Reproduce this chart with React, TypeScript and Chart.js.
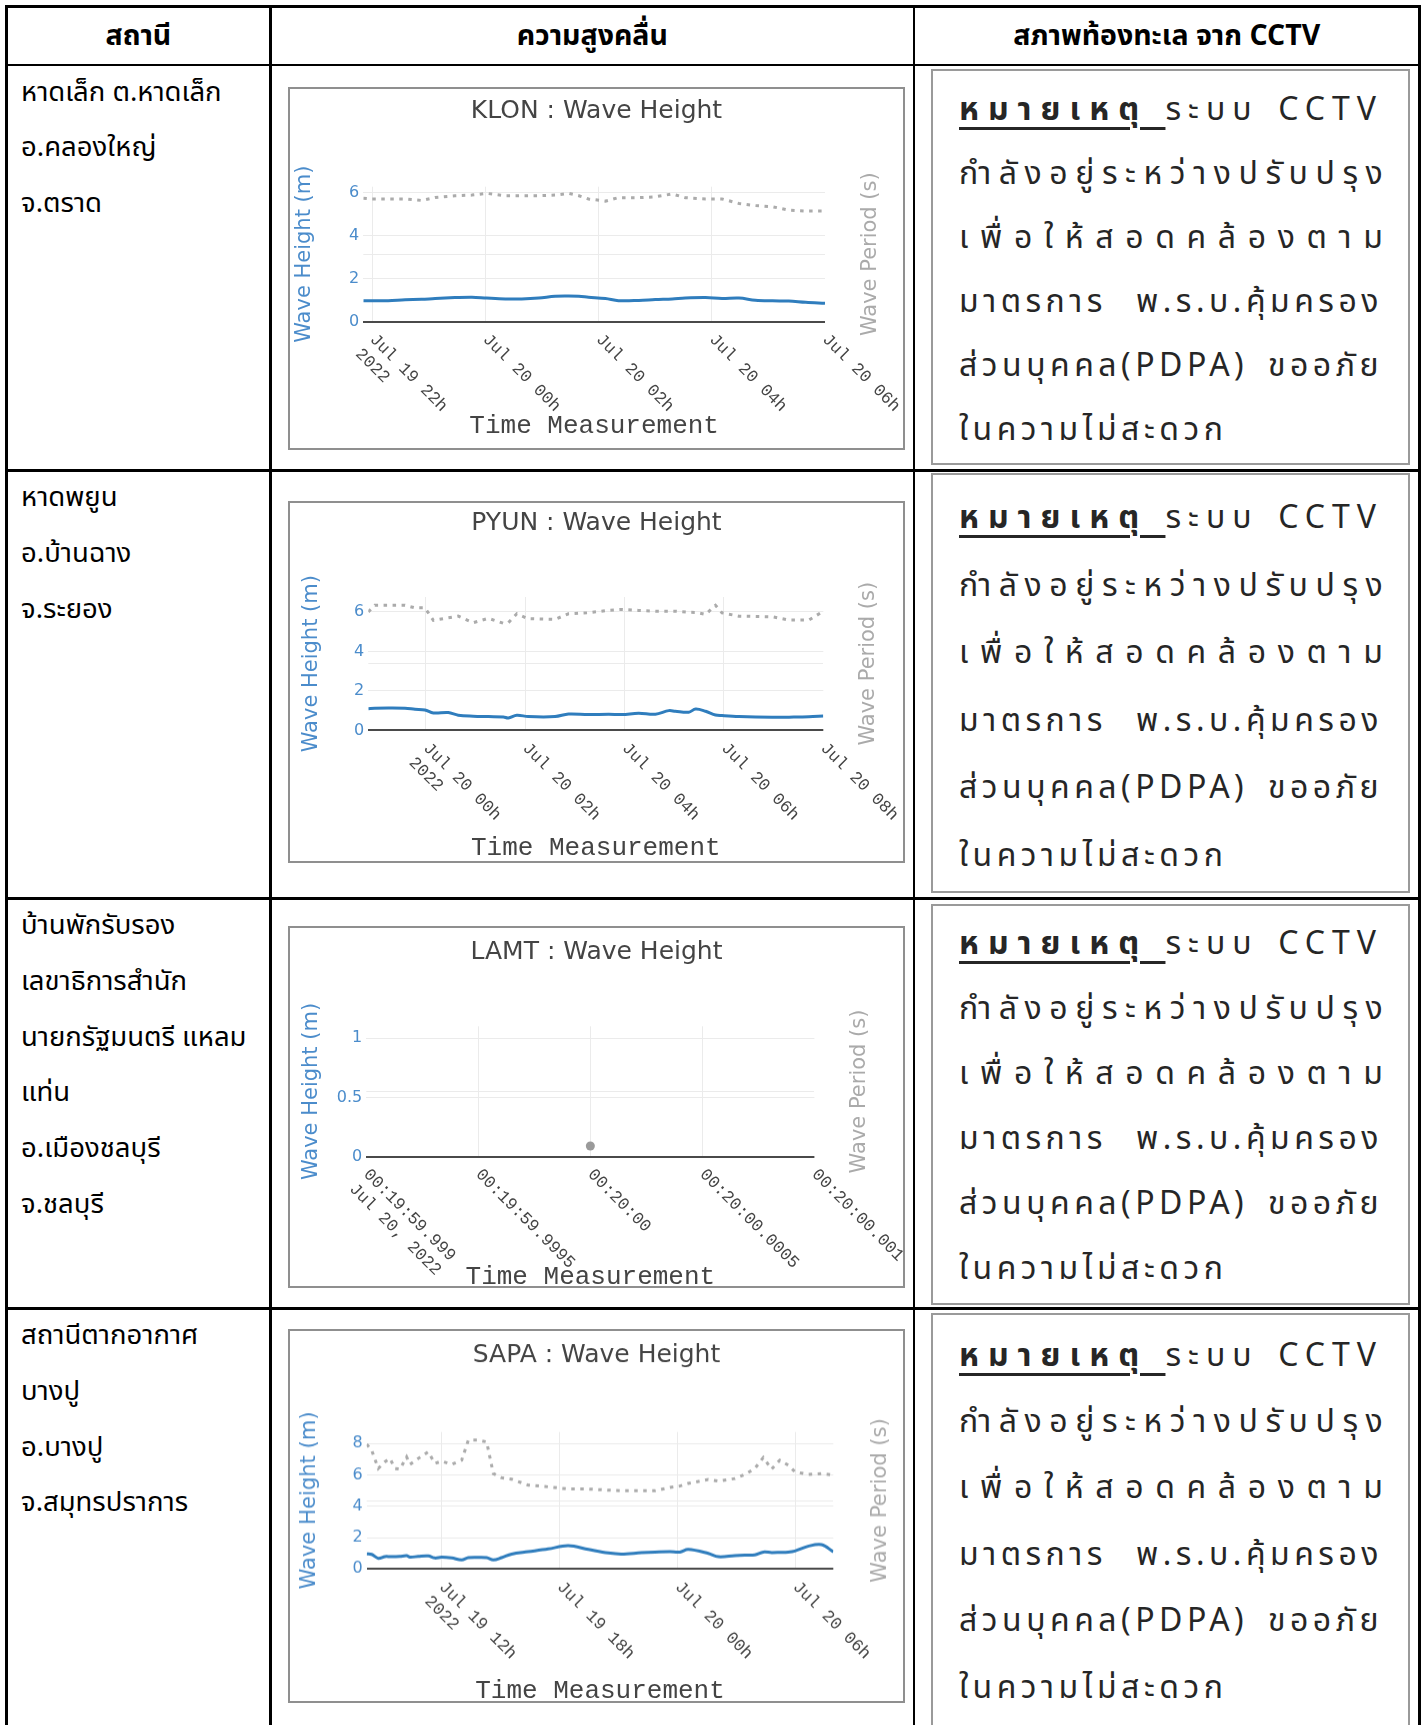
import React, { useEffect, useRef } from 'react';
import { Chart, registerables, LinearScale } from 'chart.js';

Chart.register(...registerables);

// x axis whose rotated tick labels start at the tick and run down-right (like the reference)
class SlantScale extends LinearScale {
  static id = 'slant';
  _getXAxisLabelAlignment() {
    return 'left';
  }
  _calculatePadding() {
    this.paddingLeft = 0;
    this.paddingRight = 0;
    this.paddingTop = 0;
    this.paddingBottom = 0;
  }
}
Chart.register(SlantScale);

// ---------------- DATA ----------------
const headers = ['สถานี', 'ความสูงคลื่น', 'สภาพท้องทะเล จาก CCTV'];

const stationLines = [
  ['หาดเล็ก ต.หาดเล็ก', 'อ.คลองใหญ่', 'จ.ตราด'],
  ['หาดพยูน', 'อ.บ้านฉาง', 'จ.ระยอง'],
  ['บ้านพักรับรอง', 'เลขาธิการสำนัก', 'นายกรัฐมนตรี แหลม', 'แท่น', 'อ.เมืองชลบุรี', 'จ.ชลบุรี'],
  ['สถานีตากอากาศ', 'บางปู', 'อ.บางปู', 'จ.สมุทรปราการ'],
];

const noteBold = 'หมายเหตุ';
const noteLines = [
  'ระบบ CCTV',
  'กำลังอยู่ระหว่างปรับปรุง',
  'เพื่อให้สอดคล้องตาม',
  'มาตรการ พ.ร.บ.คุ้มครอง',
  'ส่วนบุคคล(PDPA) ขออภัย',
  'ในความไม่สะดวก',
];

const stationCodes = ['KLON', 'PYUN', 'LAMT', 'SAPA'];

// hours counted from Jul 19 2022 00:00
const klonTime = [21.84, 21.99, 22.28, 22.58, 22.87, 23.11, 23.46, 23.76, 24.02, 24.35, 24.64, 24.94, 25.23, 25.47, 25.65, 25.82, 26.12, 26.35, 26.71, 27.0, 27.3, 27.53, 27.89, 28.18, 28.48, 28.77, 29.07, 29.36, 29.66, 30.0];
const klonHeight = [0.98, 0.97, 0.98, 1.02, 1.04, 1.08, 1.12, 1.14, 1.1, 1.06, 1.06, 1.1, 1.18, 1.19, 1.18, 1.14, 1.08, 0.98, 0.99, 1.03, 1.06, 1.1, 1.12, 1.08, 1.1, 1.0, 0.97, 0.96, 0.9, 0.86];
const klonPeriod = [5.74, 5.71, 5.71, 5.71, 5.64, 5.78, 5.86, 5.89, 5.97, 5.86, 5.86, 5.86, 5.89, 5.97, 5.86, 5.71, 5.61, 5.77, 5.77, 5.81, 5.94, 5.77, 5.71, 5.71, 5.5, 5.4, 5.35, 5.19, 5.15, 5.15];
const klonTicks = [22, 24, 26, 28, 30];
const klonTickLabels = [['Jul 19 22h', '2022'], 'Jul 20 00h', 'Jul 20 02h', 'Jul 20 04h', 'Jul 20 06h'];

const pyunTime = [22.84, 22.97, 23.24, 23.58, 23.78, 23.98, 24.15, 24.45, 24.65, 24.95, 25.26, 25.56, 25.66, 25.83, 26.06, 26.6, 26.87, 27.27, 27.68, 27.95, 28.28, 28.62, 28.89, 29.02, 29.29, 29.43, 29.63, 29.83, 29.96, 30.3, 30.97, 31.31, 31.71, 32.0];
const pyunHeight = [1.1, 1.12, 1.13, 1.12, 1.07, 1.03, 0.88, 0.9, 0.77, 0.72, 0.7, 0.68, 0.63, 0.77, 0.7, 0.7, 0.83, 0.8, 0.82, 0.8, 0.87, 0.82, 1.0, 0.97, 0.92, 1.08, 0.97, 0.78, 0.75, 0.7, 0.66, 0.67, 0.69, 0.73];
const pyunPeriod = [6.0, 6.33, 6.33, 6.33, 6.2, 6.2, 5.57, 5.7, 5.78, 5.45, 5.67, 5.42, 5.45, 5.9, 5.65, 5.62, 5.9, 5.95, 6.08, 6.12, 6.07, 6.03, 6.03, 6.03, 5.98, 5.97, 5.87, 6.33, 5.95, 5.78, 5.75, 5.58, 5.58, 6.03];
const pyunTicks = [24, 26, 28, 30, 32];
const pyunTickLabels = [['Jul 20 00h', '2022'], 'Jul 20 02h', 'Jul 20 04h', 'Jul 20 06h', 'Jul 20 08h'];

// milliseconds around Jul 20 2022 00:20:00
const lamtTime = [0];
const lamtHeight: number[] = [];
const lamtPeriod = [0.09];
const lamtTicks = [-1, -0.5, 0, 0.5, 1];
const lamtTickLabels = [['00:19:59.999', 'Jul 20, 2022'], '00:19:59.9995', '00:20:00', '00:20:00.0005', '00:20:00.001'];

const sapaTime = [8.19, 8.44, 8.78, 9.12, 9.37, 9.63, 9.88, 10.22, 10.39, 10.81, 11.32, 11.66, 12.0, 12.51, 13.02, 13.36, 13.86, 14.29, 14.63, 15.05, 15.56, 16.41, 17.42, 18.44, 19.46, 20.47, 21.15, 22.17, 22.85, 23.61, 24.12, 24.54, 25.56, 26.07, 26.92, 27.42, 27.93, 28.36, 28.78, 29.2, 29.63, 29.97, 30.64, 31.32, 31.92];
const sapaHeight = [0.96, 0.93, 0.68, 0.79, 0.79, 0.79, 0.8, 0.85, 0.76, 0.8, 0.83, 0.7, 0.75, 0.7, 0.58, 0.72, 0.74, 0.72, 0.58, 0.72, 0.95, 1.1, 1.28, 1.49, 1.25, 1.02, 0.95, 1.04, 1.08, 1.1, 1.08, 1.25, 1.0, 0.78, 0.85, 0.88, 0.9, 1.08, 1.05, 1.06, 1.08, 1.15, 1.45, 1.55, 1.1];
const sapaPeriod = [7.96, 7.58, 6.41, 6.84, 7.05, 6.41, 6.37, 7.15, 6.67, 7.05, 7.47, 6.73, 6.88, 6.67, 6.94, 8.22, 8.22, 8.11, 6.09, 5.82, 5.73, 5.35, 5.24, 5.1, 5.1, 5.03, 4.99, 4.99, 4.99, 5.2, 5.29, 5.46, 5.71, 5.61, 5.77, 6.03, 6.41, 7.11, 6.37, 6.94, 6.62, 6.2, 6.03, 6.09, 5.99];
const sapaTicks = [12, 18, 24, 30];
const sapaTickLabels = [['Jul 19 12h', '2022'], 'Jul 19 18h', 'Jul 20 00h', 'Jul 20 06h'];

const heightTicksA = [0, 2, 4, 6];
const heightTicksB = [0, 0.5, 1];
const heightTicksC = [0, 2, 4, 6, 8];

// ---------------- LAYOUT / STYLE ----------------
const TH_PLAIN = '"Noto Sans Thai", "Noto Sans Thai Looped", Tahoma, "DejaVu Sans", sans-serif';
const SANS = '"DejaVu Sans", Verdana, sans-serif';
const MONO = '"Liberation Mono", "Courier New", monospace';
const BLUE = '#2f7dbd';
const BLUE_TXT = '#4b8ccb';
const GRID = '#ebebeb';

const COL_X = [6.3, 270.5, 914, 1419.5];
const ROW_Y = [6.5, 65, 470.7, 898.5, 1308.5];
const LINE_W = 2.5;

const specs = [
  { code: stationCodes[0], time: klonTime, height: klonHeight, period: klonPeriod, xMin: 21.84, xMax: 30, xTicks: klonTicks, xLabels: klonTickLabels, yMax: 6.28, yTicks: heightTicksA,
    box: { top: 87, h: 363 }, plot: { left: 73.3, right: 535, top: 97.7, bottom: 232.7 }, titleY: 22.7, xTitleB: 22, yTitleX: 15, y2Dx: 45.5 },
  { code: stationCodes[1], time: pyunTime, height: pyunHeight, period: pyunPeriod, xMin: 22.84, xMax: 32, xTicks: pyunTicks, xLabels: pyunTickLabels, yMax: 6.75, yTicks: heightTicksA,
    box: { top: 500.7, h: 362.6 }, plot: { left: 78.3, right: 533.3, top: 94, bottom: 228 }, titleY: 20, xTitleB: 12.4, yTitleX: 21.5, y2Dx: 45 },
  { code: stationCodes[2], time: lamtTime, height: lamtHeight, period: lamtPeriod, xMin: -1, xMax: 1, xTicks: lamtTicks, xLabels: lamtTickLabels, yMax: 1.1, yTicks: heightTicksB,
    box: { top: 925.7, h: 362.3 }, plot: { left: 76.3, right: 524.4, top: 98.3, bottom: 229 }, titleY: 24.6, xTitleB: 9.3, yTitleX: 21.5, y2Dx: 45 },
  { code: stationCodes[3], time: sapaTime, height: sapaHeight, period: sapaPeriod, xMin: 8.19, xMax: 31.92, xTicks: sapaTicks, xLabels: sapaTickLabels, yMax: 8.74, yTicks: heightTicksC,
    box: { top: 1329, h: 373.7 }, plot: { left: 76.7, right: 543.3, top: 100.7, bottom: 238 }, titleY: 24, xTitleB: 10.3, yTitleX: 19.5, y2Dx: 47.7 },
];

const noteBoxes = [
  { top: 69, h: 396, first: 110, step: 64 },
  { top: 473, h: 420, first: 519, step: 67.5 },
  { top: 904, h: 401, first: 944.5, step: 65 },
  { top: 1313, h: 440, first: 1355.7, step: 66.4 },
];

const rightTitlePlugin = {
  id: 'rightTitle',
  afterDraw(chart: any, _args: any, opts: any) {
    const { ctx, chartArea } = chart;
    ctx.save();
    ctx.translate(chartArea.right + opts.dx, (chartArea.top + chartArea.bottom) / 2);
    ctx.rotate(-Math.PI / 2);
    ctx.font = opts.font;
    ctx.fillStyle = opts.color;
    ctx.textAlign = 'center';
    ctx.textBaseline = 'middle';
    ctx.fillText(opts.text, 0, 0);
    ctx.restore();
  },
};

function ChartPanel({ spec }: { spec: any }) {
  const ref = useRef<HTMLCanvasElement>(null);
  const W = 613;
  const H = spec.box.h - 4;
  useEffect(() => {
    const p = spec.plot;
    const single = spec.time.length === 1;
    const titleSize = 25;
    const titleLH = titleSize * 1.2;
    const yTitleSize = 21;
    const yTitleLH = yTitleSize * 1.2;
    const xTitleLH = 26;
    const chart = new Chart(ref.current as HTMLCanvasElement, {
      type: 'line',
      data: {
        datasets: [
          {
            label: 'Wave Height',
            data: spec.height.map((v: number, i: number) => ({ x: spec.time[i], y: v })),
            borderColor: BLUE,
            borderWidth: 3,
            pointRadius: 0,
            tension: 0.35,
            yAxisID: 'y',
          },
          {
            label: 'Wave Period',
            data: spec.period.map((v: number, i: number) => ({ x: spec.time[i], y: v })),
            borderColor: '#ababab',
            borderWidth: 3,
            borderDash: [3.5, 5.5],
            pointRadius: single ? 4.5 : 0,
            pointBackgroundColor: '#9a9a9a',
            pointBorderWidth: 0,
            showLine: !single,
            tension: 0,
            yAxisID: 'y',
          },
        ],
      },
      options: {
        animation: false,
        responsive: false,
        events: [],
        layout: { padding: 0 },
        plugins: {
          legend: { display: false },
          tooltip: { enabled: false },
          title: {
            display: true,
            text: spec.code + ' : Wave Height',
            color: '#444',
            font: { family: SANS, size: titleSize, weight: 'normal', lineHeight: 1.2 },
            padding: { top: spec.titleY - titleLH / 2, bottom: p.top - spec.titleY - titleLH / 2 },
          },
          rightTitle: {
            dx: spec.y2Dx,
            text: 'Wave Period (s)',
            color: '#aaaaaa',
            font: '21px "DejaVu Sans", Verdana, sans-serif',
          },
        } as any,
        scales: {
          x: {
            type: 'slant' as any,
            position: 'bottom',
            min: spec.xMin,
            max: spec.xMax,
            afterBuildTicks: (a: any) => {
              a.ticks = spec.xTicks.map((v: number) => ({ value: v }));
            },
            afterFit: (s: any) => {
              s.height = H - p.bottom;
            },
            ticks: {
              autoSkip: false,
              minRotation: -45,
              maxRotation: -45,
              padding: 8,
              color: '#444',
              font: { family: MONO, size: 17, lineHeight: 1.2 },
              callback: (_v: any, i: number) => spec.xLabels[i],
            },
            grid: {
              drawTicks: false,
              color: (c: any) =>
                c.tick && (c.tick.value <= spec.xMin + 1e-9 || c.tick.value >= spec.xMax - 1e-9) ? 'rgba(0,0,0,0)' : GRID,
            },
            border: { display: false },
            title: {
              display: true,
              text: 'Time Measurement',
              color: '#444',
              font: { family: MONO, size: 26, lineHeight: 1 },
              padding: { top: 0, bottom: spec.xTitleB - xTitleLH / 2 },
            },
          },
          y: {
            type: 'linear',
            position: 'left',
            min: 0,
            max: spec.yMax,
            afterBuildTicks: (a: any) => {
              a.ticks = spec.yTicks.map((v: number) => ({ value: v }));
            },
            afterFit: (s: any) => {
              s.width = p.left;
            },
            ticks: {
              padding: 4,
              color: BLUE_TXT,
              font: { family: SANS, size: 16 },
              callback: (v: any) => String(v),
            },
            grid: {
              drawTicks: false,
              color: (c: any) => (c.tick && c.tick.value === 0 ? '#4a4a4a' : GRID),
              lineWidth: (c: any) => (c.tick && c.tick.value === 0 ? 2 : 1),
            },
            border: { display: false },
            title: {
              display: true,
              text: 'Wave Height (m)',
              color: BLUE_TXT,
              font: { family: SANS, size: yTitleSize, lineHeight: 1.2 },
              padding: { top: spec.yTitleX - yTitleLH / 2, bottom: 0 },
            },
          },
          y2: {
            type: 'linear',
            position: 'right',
            min: 0,
            max: 2,
            afterBuildTicks: (a: any) => {
              a.ticks = [{ value: 1 }];
            },
            afterFit: (s: any) => {
              s.width = W - p.right;
            },
            ticks: { display: false },
            grid: { drawTicks: false, color: GRID },
            border: { display: false },
          },
        },
      } as any,
      plugins: [rightTitlePlugin as any],
    });
    return () => chart.destroy();
  }, []);
  return (
    <div
      style={{
        position: 'absolute',
        left: 288,
        top: spec.box.top,
        width: 617,
        height: spec.box.h,
        border: '2px solid #8f8f8f',
        boxSizing: 'border-box',
        background: '#fff',
      }}
    >
      <canvas ref={ref} width={W} height={H} style={{ display: 'block', width: W, height: H }} />
    </div>
  );
}

function graphemes(s: string): string[] {
  const Seg = (Intl as any).Segmenter;
  if (Seg) return Array.from(new Seg('th', { granularity: 'grapheme' }).segment(s), (x: any) => x.segment);
  return Array.from(s);
}

function NoteBox({ box }: { box: any }) {
  const inner = 26;
  const textW = 424;
  const fontSize = 32;
  return (
    <div
      style={{
        position: 'absolute',
        left: 931,
        top: box.top,
        width: 479,
        height: box.h,
        border: '2px solid #9a9a9a',
        boxSizing: 'border-box',
        background: '#fff',
        fontFamily: TH_PLAIN,
        fontSize,
        color: '#262626',
      }}
    >
      {noteLines.map((ln, i) => {
        const top = box.first + i * box.step - box.top - 2 - box.step / 2;
        const base: any = {
          position: 'absolute',
          left: inner,
          width: textW,
          top,
          height: box.step,
          lineHeight: box.step + 'px',
          whiteSpace: 'nowrap',
          letterSpacing: '4.5px',
        };
        if (i === 0) {
          return (
            <div key={i} style={{ ...base, display: 'flex', justifyContent: 'space-between' }}>
              <span
                style={{
                  fontWeight: 'bold',
                  textDecoration: 'underline',
                  textDecorationThickness: '2.5px',
                  textUnderlineOffset: '7px',
                  letterSpacing: '9px',
                }}
              >
                {noteBold + '\u00a0'}
              </span>
              <span style={{ flex: 1, textAlign: 'justify', textAlignLast: 'justify', letterSpacing: '7px' } as any}>{ln}</span>
            </div>
          );
        }
        if (i === 1 || i === 2) {
          return (
            <div key={i} style={{ ...base, letterSpacing: 0, display: 'flex', justifyContent: 'space-between' }}>
              {graphemes(ln).map((g, k) => (
                <span key={k}>{g}</span>
              ))}
            </div>
          );
        }
        if (i === noteLines.length - 1) {
          return (
            <div key={i} style={{ ...base, textAlign: 'left' }}>
              {ln}
            </div>
          );
        }
        return (
          <div key={i} style={{ ...base, textAlign: 'justify', textAlignLast: 'justify' } as any}>
            {ln}
          </div>
        );
      })}
    </div>
  );
}

export default function App() {
  const tableBottom = 1760;
  const hLines = ROW_Y.map((y, i) => (
    <div
      key={'h' + i}
      style={{ position: 'absolute', left: COL_X[0] - LINE_W / 2, top: y - LINE_W / 2, width: COL_X[3] - COL_X[0] + LINE_W, height: LINE_W, background: '#000' }}
    />
  ));
  const vLines = COL_X.map((x, i) => (
    <div
      key={'v' + i}
      style={{ position: 'absolute', left: x - LINE_W / 2, top: ROW_Y[0] - LINE_W / 2, width: LINE_W, height: tableBottom - ROW_Y[0], background: '#000' }}
    />
  ));
  return (
    <div style={{ position: 'absolute', left: 0, top: 0, width: 1426, height: 1725, overflow: 'hidden', background: '#fff' }}>
      {headers.map((h, i) => (
        <div
          key={'hd' + i}
          style={{
            position: 'absolute',
            left: COL_X[i],
            width: COL_X[i + 1] - COL_X[i],
            top: ROW_Y[0] + 1,
            height: ROW_Y[1] - ROW_Y[0],
            lineHeight: ROW_Y[1] - ROW_Y[0] + 'px',
            textAlign: 'center',
            fontFamily: TH_PLAIN,
            fontWeight: 'bold',
            fontSize: 28.5,
            color: '#000',
            whiteSpace: 'nowrap',
          }}
        >
          {h}
        </div>
      ))}
      {stationLines.map((lines, r) => (
        <div
          key={'st' + r}
          style={{
            position: 'absolute',
            left: 21,
            top: ROW_Y[r + 1] - 0.5,
            width: 245,
            fontFamily: TH_PLAIN,
            fontSize: 27.5,
            fontWeight: 400,
            lineHeight: '55.8px',
            color: '#000',
            whiteSpace: 'nowrap',
          }}
        >
          {lines.map((l, k) => (
            <div key={k}>{l}</div>
          ))}
        </div>
      ))}
      {specs.map((s, i) => (
        <ChartPanel key={'c' + i} spec={s} />
      ))}
      {noteBoxes.map((b, i) => (
        <NoteBox key={'n' + i} box={b} />
      ))}
      {hLines}
      {vLines}
    </div>
  );
}
